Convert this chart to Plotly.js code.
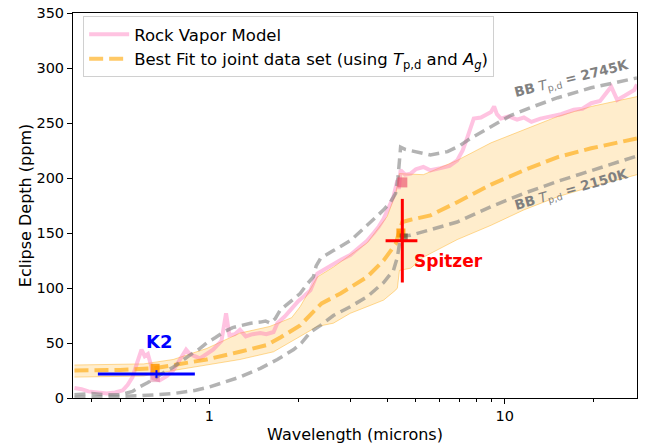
<!DOCTYPE html>
<html>
<head>
<meta charset="utf-8">
<script src="https://cdn.plot.ly/plotly-3.0.1.min.js"></script>
<style>html,body{margin:0;padding:0;background:#fff;}#chart{width:654px;height:444px;}</style>
</head>
<body>
<div id="chart"></div>
<script>
// Rock vapor model
const rockWl = [0.35,0.37,0.39,0.42,0.45,0.48,0.51,0.53,0.55,0.57,0.59,0.605,0.62,0.635,0.646,0.68,0.72,0.755,0.8,0.835,0.86,0.93,1.03,1.1,1.14,1.17,1.22,1.27,1.33,1.4,1.49,1.56,1.65,1.7,1.8,1.88,2.0,2.1,2.2,2.32,2.45,2.63,2.8,3.0,3.2,3.42,3.6,3.75,3.89,4.05,4.2,4.33,4.38,4.44,4.6,4.8,5.0,5.3,5.6,6.06,6.5,6.9,7.2,7.47,7.85,8.3,8.98,9.2,9.4,9.7,10.3,11.0,11.6,12.3,13.2,14.3,15.5,17.1,18.3,19.6,21,22.9,24,25.5,27.4,28];
const rockPpm = [9,8,6,5,4,5,7,12,19,32,44,38,40,30,18,16,20,25,35,44,40,36,44,52,77,57,58,62,56,58,59,58,60,68,74,80,88,93,98,113,117,122,126,130,136,143,150,156,163,174,183,198,190,207,203,204,208,210,207,209,211,216,225,237,254,255,260,265,258,254,256,253,255,251,254,256,258,262,263,268,270,283,271,275,280,285];
// Blackbody T = 2745 K
const bbHotWl = [0.35,0.4,0.45,0.5,0.55,0.58,0.62,0.66,0.7,0.755,0.8,0.86,0.92,0.98,1.05,1.12,1.2,1.3,1.38,1.49,1.55,1.61,1.67,1.74,1.85,2.03,2.15,2.25,2.3,2.38,2.63,3.0,3.42,3.89,4.1,4.27,4.35,4.4,4.44,4.6,4.8,5.6,6.4,7.0,7.65,8.98,10.5,12.5,15.1,19.6,24,28];
const bbHotPpm = [3,4,3,3,6,10,14,19,23,28,33,39,44,50,55,60,64,66,68,69,70,68,72,80,86,95,104,110,120,127,134,143,157,171,178,186,200,220,228,226,225,221,224,229,236,247,257,265,273,282,287,291];
// Blackbody T = 2150 K
const bbCoolWl = [0.35,0.45,0.58,0.755,0.9,1.0,1.27,1.49,1.7,1.93,2.05,2.2,2.38,2.63,3.0,3.42,3.89,4.2,4.33,4.44,4.8,5.6,6.9,8.98,11.6,15.1,19.6,28];
const bbCoolPpm = [0.5,1,2,4,7,10,19,27,35,44,50,60,66,75,83,92,105,116,128,147,148,153,160,174,186,197,207,220];
// Best fit and its band
const fitWl = [0.35,0.5,0.65,0.755,0.98,1.27,1.56,1.74,2.03,2.32,2.4,2.78,3.42,3.89,4.27,4.38,4.5,4.8,5.6,6.9,8.98,11.6,15.1,19.6,28];
const fitPpm = [25,25.5,27,30,35,42,48,55,66,82,86,95,110,125,140,150,160,162,166,178,194,207,219,227,236];
const bandUpWl = [0.35,0.6,0.755,0.98,1.27,1.6,1.9,2.03,2.32,2.63,3.42,4.0,4.27,4.4,5.3,6.9,8.98,11.6,15.1,19.6,28];
const bandUpPpm = [30,31,35,45,59,65,73,83,110,119,141,165,186,204,203,216,232,244,256,265,274];
const bandLoWl = [0.35,0.6,0.755,0.98,1.27,1.65,2.03,2.32,2.63,3.0,3.42,3.89,4.27,4.33,4.4,4.8,5.3,6.9,8.98,11.6,15.1,19.6,28];
const bandLoPpm = [19,20,25,30,35,42,56,65,68,77,83,89,98,100,116,118,128,144,157,171,183,192,203];
// Observations
const k2 = {wl: 0.663, depth: 21.8, wlLo: 0.42, wlHi: 0.894, err: 3.5};
const spitzer = {wl: 4.5, depth: 143, wlLo: 3.95, wlHi: 5.06, err: 38};
// Band-integrated model points
const fitPtWl = [0.656, 4.45];
const fitPtPpm = [27, 150];
const rockPtWl = [0.655, 4.5];
const rockPtPpm = [19, 196];
const coolPtWl = [4.55];
const coolPtPpm = [146];

const L = Math.log10;
const traces = [
  {x: bandLoWl, y: bandLoPpm, mode: 'lines', line: {color: 'rgba(255,165,0,0.4)', width: 1}, showlegend: false, hoverinfo: 'skip'},
  {x: bandUpWl, y: bandUpPpm, mode: 'lines', fill: 'tonexty', fillcolor: 'rgba(255,165,0,0.2)', line: {color: 'rgba(255,165,0,0.4)', width: 1}, showlegend: false},
  {x: rockWl, y: rockPpm, mode: 'lines', name: 'Rock Vapor Model', line: {color: 'rgba(255,105,180,0.4)', width: 4}},
  {x: fitWl, y: fitPpm, mode: 'lines', name: 'Best Fit to joint data set (using <i>T</i><sub>p,d</sub> and <i>A<sub>g</sub></i>)', line: {color: 'rgba(255,165,0,0.6)', width: 4, dash: '14px,6px'}},
  {x: bbHotWl, y: bbHotPpm, mode: 'lines', showlegend: false, line: {color: 'rgba(128,128,128,0.6)', width: 3.5, dash: '11px,6px'}},
  {x: bbCoolWl, y: bbCoolPpm, mode: 'lines', showlegend: false, line: {color: 'rgba(128,128,128,0.6)', width: 3.5, dash: '11px,6px'}},
  {x: rockPtWl, y: rockPtPpm, mode: 'markers', showlegend: false, marker: {symbol: 'square', size: 10, color: ['rgba(200,80,120,0.35)', 'rgba(235,80,110,0.65)']}},
  {x: fitPtWl, y: fitPtPpm, mode: 'markers', showlegend: false, marker: {symbol: 'square', size: 9, color: 'rgba(255,150,0,0.85)'}},
  {x: coolPtWl, y: coolPtPpm, mode: 'markers', showlegend: false, marker: {symbol: 'square', size: 8, color: 'rgba(70,60,40,0.6)'}},
  {x: [k2.wl], y: [k2.depth], mode: 'markers', showlegend: false, marker: {size: 1, color: 'blue'},
   error_x: {type: 'data', symmetric: false, array: [k2.wlHi - k2.wl], arrayminus: [k2.wl - k2.wlLo], color: 'blue', thickness: 3, width: 0},
   error_y: {type: 'data', array: [k2.err], color: 'blue', thickness: 2, width: 0}},
  {x: [spitzer.wl], y: [spitzer.depth], mode: 'markers', showlegend: false, marker: {size: 1, color: 'red'},
   error_x: {type: 'data', symmetric: false, array: [spitzer.wlHi - spitzer.wl], arrayminus: [spitzer.wl - spitzer.wlLo], color: 'red', thickness: 3, width: 0},
   error_y: {type: 'data', array: [spitzer.err], color: 'red', thickness: 3, width: 0}}
];

const minorVals = [0.4,0.5,0.6,0.7,0.8,0.9,2,3,4,5,6,7,8,9,20];
const layout = {
  width: 654, height: 444,
  margin: {l: 73, r: 17, t: 13, b: 46},
  paper_bgcolor: '#fff', plot_bgcolor: '#fff',
  font: {family: 'DejaVu Sans', color: '#000', size: 14.5},
  showlegend: true,
  legend: {x: 0.018, y: 0.992, xanchor: 'left', yanchor: 'top', traceorder: 'normal', itemwidth: 40, bgcolor: 'rgba(255,255,255,0.8)', bordercolor: '#d0d0d0', borderwidth: 1, font: {size: 16.5}, tracegroupgap: 0},
  xaxis: {type: 'log', range: [L(0.346), L(28)], tickvals: [1, 10], ticktext: ['1', '10'], ticks: 'outside', ticklen: 5, tickcolor: '#000', showgrid: false, zeroline: false,
    showline: true, linecolor: '#000', linewidth: 1, mirror: true,
    minor: {tickmode: 'array', tickvals: minorVals, ticks: 'outside', ticklen: 3, tickcolor: '#000', showgrid: false},
    title: {text: 'Wavelength (microns)', font: {size: 16}, standoff: 8}},
  yaxis: {range: [0, 350], tickvals: [0,50,100,150,200,250,300,350], ticks: 'outside', ticklen: 5, tickcolor: '#000', showgrid: false, zeroline: false,
    showline: true, linecolor: '#000', linewidth: 1, mirror: true,
    title: {text: 'Eclipse Depth (ppm)', font: {size: 16}, standoff: 0}},
  annotations: [
    {x: L(0.677), y: 51.8, xref: 'x', yref: 'y', text: '<b>K2</b>', showarrow: false, font: {size: 18, color: 'blue'}},
    {x: L(6.46), y: 124.5, xref: 'x', yref: 'y', text: '<b>Spitzer</b>', showarrow: false, font: {size: 17, color: 'red'}},
    {x: L(16.8), y: 290, xref: 'x', yref: 'y', text: '<b>BB</b> <i>T</i><sub>p,d</sub> <b>= 2745K</b>', showarrow: false, textangle: -14, font: {size: 13.5, color: '#808080'}},
    {x: L(16.8), y: 189, xref: 'x', yref: 'y', text: '<b>BB</b> <i>T</i><sub>p,d</sub> <b>= 2150K</b>', showarrow: false, textangle: -16, font: {size: 13.5, color: '#808080'}}
  ]
};
Plotly.newPlot('chart', traces, layout, {displayModeBar: false, staticPlot: true});
</script>
</body>
</html>
